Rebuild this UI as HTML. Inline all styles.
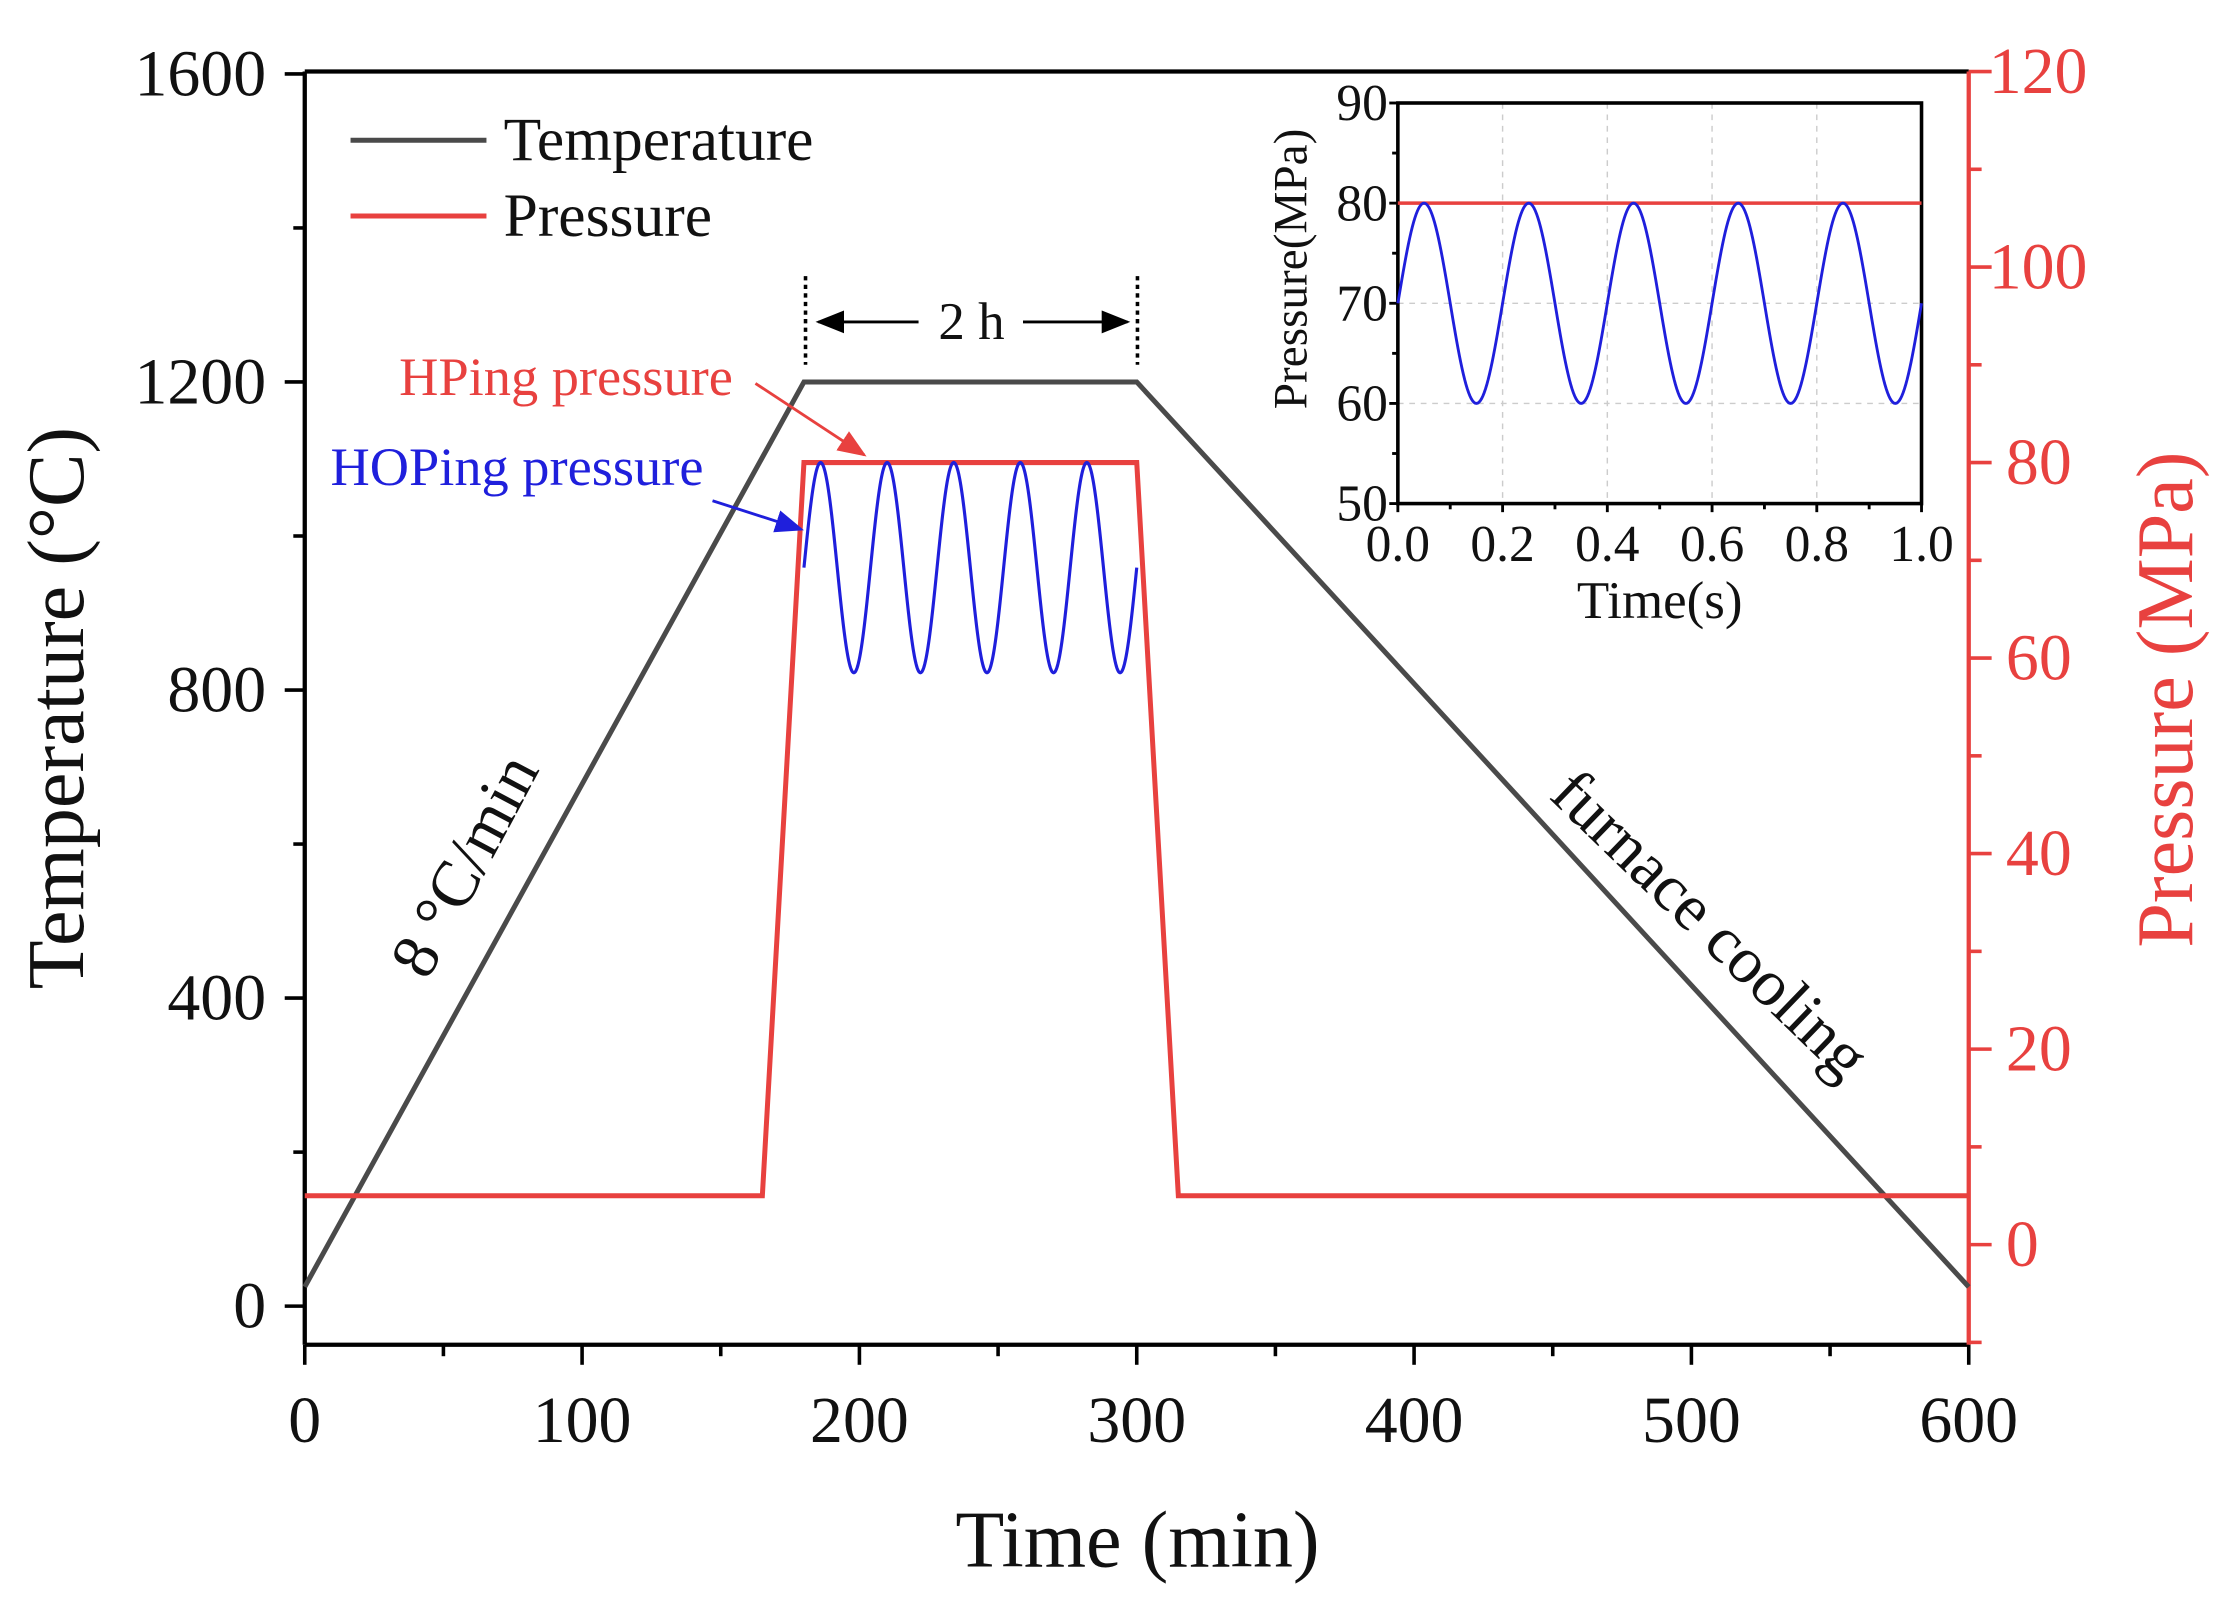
<!DOCTYPE html>
<html><head><meta charset="utf-8"><style>
html,body{margin:0;padding:0;background:#fff;}
svg{display:block;font-family:"Liberation Serif",serif;}
</style></head><body>
<svg id="chart" width="2232" height="1608" viewBox="0 0 1560 1124" preserveAspectRatio="none" xmlns="http://www.w3.org/2000/svg"></svg>
<script>
// ---- main chart data ----
const tempTimes = [0, 180, 300, 600];
const tempValues = [25, 1200, 1200, 25];
const presTimes = [0, 165, 180, 300, 315, 600];
const presValues = [5, 5, 80, 80, 5, 5];
const hopStart = [180];
const hopEnd = [300];
const hopCycles = [5];
const hopMin = [58.5];
const hopMax = [80];
const xTicks = [0, 100, 200, 300, 400, 500, 600];
const tTicks = [0, 400, 800, 1200, 1600];
const pTicks = [0, 20, 40, 60, 80, 100, 120];
// ---- inset data ----
const inXTicks = [0.0, 0.2, 0.4, 0.6, 0.8, 1.0];
const inYTicks = [50, 60, 70, 80, 90];
const inHP = [80];
const inCycles = [5];
const inMin = [60];
const inMax = [80];

const svg = document.getElementById('chart');
const NS = 'http://www.w3.org/2000/svg';
function mk(tag, attrs, parent){const e=document.createElementNS(NS,tag);for(const k in attrs)e.setAttribute(k,attrs[k]);(parent||svg).appendChild(e);return e;}
function txt(s, attrs, parent){const e=mk('text',attrs,parent);e.textContent=s;return e;}

const L=213,R=1376,T=50,B=940;
const X=v=>L+(v-0)/(600-0)*(R-L);
const YT=v=>913-(v)*(913-267)/1200;
const YP=v=>870-(v)*(870-50)/120;

const axes=mk('g',{});


mk('line',{x1:L,y1:T,x2:R,y2:T,stroke:'#000','stroke-width':3},axes);
mk('line',{x1:L,y1:T,x2:L,y2:B,stroke:'#000','stroke-width':3},axes);
mk('line',{x1:L,y1:B,x2:R,y2:B,stroke:'#000','stroke-width':3},axes);
mk('line',{x1:R,y1:T,x2:R,y2:B,stroke:'#e8413f','stroke-width':3},axes);

for(let v=0;v<=600;v+=50){const major=v%100===0;mk('line',{x1:X(v),y1:B,x2:X(v),y2:B+(major?14:8),stroke:'#000','stroke-width':2.5},axes);}
xTicks.forEach(v=>{const t=txt(String(v),{x:X(v),y:1008,'font-size':46,'text-anchor':'middle',fill:'#111'});});
for(let v=0;v<=1600;v+=200){const major=v%400===0;mk('line',{x1:L,y1:YT(v),x2:L-(major?14:8),y2:YT(v),stroke:'#000','stroke-width':2.5},axes);}
tTicks.forEach(v=>{const t=txt(String(v),{x:186,y:YT(v)+15,'font-size':46,'text-anchor':'end',fill:'#111'});});
for(let v=-10;v<=120;v+=10){mk('line',{x1:R,y1:YP(v),x2:R+(v%20===0?16:9),y2:YP(v),stroke:'#e8413f','stroke-width':2.5},axes);}
pTicks.forEach(v=>{const t=txt(String(v),{x:v>=100?1390:1402,y:YP(v)+15,'font-size':46,fill:'#e8413f'});});

let t=txt('Time (min)',{x:795,y:1095,'font-size':56,'text-anchor':'middle',fill:'#111'});

t=txt('Temperature (°C)',{x:0,y:0,'font-size':56,'text-anchor':'middle',fill:'#111',transform:'translate(58,495) rotate(-90)'});

t=txt('Pressure (MPa)',{x:0,y:0,'font-size':56,'text-anchor':'middle',fill:'#e8413f',transform:'translate(1532,489) rotate(-90)'});


const tp=mk('polyline',{points:tempTimes.map((v,i)=>X(v)+','+YT(tempValues[i])).join(' '),fill:'none',stroke:'#4a4a4a','stroke-width':3.5});

const pp=mk('polyline',{points:presTimes.map((v,i)=>X(v)+','+YP(presValues[i])).join(' '),fill:'none',stroke:'#e8413f','stroke-width':3.5});

let pts=[];const mid=(hopMin[0]+hopMax[0])/2,amp=(hopMax[0]-hopMin[0])/2;
for(let i=0;i<=600;i++){const tt=hopStart[0]+(hopEnd[0]-hopStart[0])*i/600;const ph=(tt-hopStart[0])/(hopEnd[0]-hopStart[0])*hopCycles[0]*2*Math.PI;pts.push(X(tt)+','+YP(mid+amp*Math.sin(ph)));}
const hp=mk('polyline',{points:pts.join(' '),fill:'none',stroke:'#1f1fdc','stroke-width':2.2});


const lg=mk('g',{});
mk('line',{x1:245,y1:98,x2:340,y2:98,stroke:'#4a4a4a','stroke-width':3.5},lg);
txt('Temperature',{x:352,y:112,'font-size':43,fill:'#111'},lg);
mk('line',{x1:245,y1:151,x2:340,y2:151,stroke:'#e8413f','stroke-width':3.5},lg);
txt('Pressure',{x:352,y:165,'font-size':43,fill:'#111'},lg);

mk('defs',{}).innerHTML='<marker id="ak" markerWidth="10" markerHeight="8" refX="9" refY="4" orient="auto"><path d="M0,0 L10,4 L0,8 Z" fill="#000"/></marker><marker id="ar" markerWidth="10" markerHeight="8" refX="9" refY="4" orient="auto"><path d="M0,0 L10,4 L0,8 Z" fill="#e8413f"/></marker><marker id="ab" markerWidth="10" markerHeight="8" refX="9" refY="4" orient="auto"><path d="M0,0 L10,4 L0,8 Z" fill="#1f1fdc"/></marker>';
mk('line',{x1:563,y1:193,x2:563,y2:255,stroke:'#000','stroke-width':2.5,'stroke-dasharray':'3,3'});
mk('line',{x1:795,y1:193,x2:795,y2:255,stroke:'#000','stroke-width':2.5,'stroke-dasharray':'3,3'});
mk('line',{x1:642,y1:225,x2:572,y2:225,stroke:'#000','stroke-width':2,'marker-end':'url(#ak)'});
mk('line',{x1:715,y1:225,x2:788,y2:225,stroke:'#000','stroke-width':2,'marker-end':'url(#ak)'});
t=txt('2 h',{x:679,y:237,'font-size':37,'text-anchor':'middle',fill:'#111'});
t=txt('HPing pressure',{x:279,y:276,'font-size':38,fill:'#e8413f'});
mk('line',{x1:528,y1:268,x2:604,y2:318,stroke:'#e8413f','stroke-width':2,'marker-end':'url(#ar)'});
t=txt('HOPing pressure',{x:231,y:339,'font-size':38,fill:'#1f1fdc'});
mk('line',{x1:498,y1:350,x2:560,y2:370,stroke:'#1f1fdc','stroke-width':2,'marker-end':'url(#ab)'});
t=txt('8 °C/min',{x:0,y:0,'font-size':46,'text-anchor':'middle',fill:'#111',transform:'translate(338,612) rotate(-62)'});
t=txt('furnace cooling',{x:0,y:0,'font-size':46,'text-anchor':'middle',fill:'#111',transform:'translate(1185,657) rotate(44)'});

const IL=977,IR=1343,IT=72,IB=352;
const IX=v=>IL+v*(IR-IL);
const IY=v=>IB-(v-50)/40*(IB-IT);
const ins=mk('g',{});
mk('rect',{x:IL,y:IT,width:IR-IL,height:IB-IT,fill:'#fff',stroke:'none'},ins);
inXTicks.slice(1,-1).forEach(v=>mk('line',{x1:IX(v),y1:IT,x2:IX(v),y2:IB,stroke:'#ccc','stroke-width':1,'stroke-dasharray':'4,4'},ins));
inYTicks.slice(1,-1).forEach(v=>mk('line',{x1:IL,y1:IY(v),x2:IR,y2:IY(v),stroke:'#ccc','stroke-width':1,'stroke-dasharray':'4,4'},ins));
for(let v=0;v<=1.0001;v+=0.1){mk('line',{x1:IX(v),y1:IB,x2:IX(v),y2:IB+(Math.round(v*10)%2===0?6:4),stroke:'#000','stroke-width':2},ins);}
for(let v=50;v<=90;v+=5){mk('line',{x1:IL,y1:IY(v),x2:IL-(v%10===0?6:4),y2:IY(v),stroke:'#000','stroke-width':2},ins);}
mk('rect',{x:IL,y:IT,width:IR-IL,height:IB-IT,fill:'none',stroke:'#000','stroke-width':2.5},ins);
inXTicks.forEach(v=>{const e=txt(v.toFixed(1),{x:IX(v),y:392,'font-size':36,'text-anchor':'middle',fill:'#111'},ins);});
inYTicks.forEach(v=>{const e=txt(String(v),{x:970,y:IY(v)+12,'font-size':36,'text-anchor':'end',fill:'#111'},ins);});
t=txt('Time(s)',{x:1160,y:432,'font-size':37,'text-anchor':'middle',fill:'#111'},ins);
t=txt('Pressure(MPa)',{x:0,y:0,'font-size':33,'text-anchor':'middle',fill:'#111',transform:'translate(913,188) rotate(-90)'},ins);
const ihp=mk('line',{x1:IX(0),y1:IY(inHP[0]),x2:IX(1),y2:IY(inHP[0]),stroke:'#e8413f','stroke-width':2.5},ins);

pts=[];const im=(inMin[0]+inMax[0])/2,ia=(inMax[0]-inMin[0])/2;
for(let i=0;i<=400;i++){const s=i/400;pts.push(IX(s)+','+IY(im+ia*Math.sin(s*inCycles[0]*2*Math.PI)));}
const ihop=mk('polyline',{points:pts.join(' '),fill:'none',stroke:'#1f1fdc','stroke-width':2},ins);

</script>
</body></html>
